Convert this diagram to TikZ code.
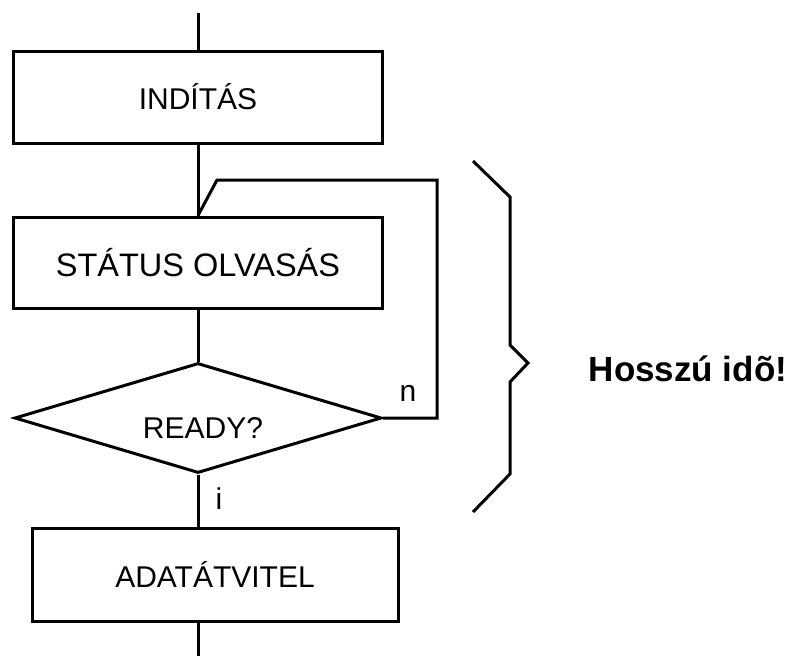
\documentclass[tikz,border=0pt]{standalone}
\usepackage{fontspec}
\setmainfont{Liberation Sans}
\usetikzlibrary{shapes.geometric}
\tikzset{
  ln/.style={line width=3pt, line join=miter},
  procbox/.style={draw, line width=3pt, rectangle, inner sep=0pt, font=\fontsize{30}{36}\selectfont},
  decbox/.style={draw, line width=3pt, diamond, inner sep=0pt, minimum width=367pt, minimum height=110pt},
  lbl/.style={inner sep=0pt, font=\fontsize{30}{36}\selectfont},
  big/.style={inner sep=0pt, font=\fontsize{35}{42}\selectfont\bfseries}
}
\begin{document}
\begin{tikzpicture}[x=1pt, y=-1pt]
\useasboundingbox (0,0) rectangle (793,656);
% nodes
\node[procbox, minimum width=369pt, minimum height=92pt] (indit) at (198,97) {INDÍTÁS};
\node[procbox, minimum width=369pt, minimum height=91pt, font=\fontsize{32.5}{38}\selectfont] (stat) at (198,262.5) {STÁTUS OLVASÁS};
\node[decbox] (dia) at (198,418) {};
\node[lbl] (ready) at (203,428) {READY?};
\node[procbox, minimum width=366pt, minimum height=93pt] (adat) at (215,574.5) {ADATÁTVITEL};
\node[lbl] (n) at (408,393) {n};
\node[lbl] (i) at (219,499) {i};
\node[big] (hossz) at (688,369) {Hosszú idõ!};
% free ends
\coordinate (top) at (198,13);
\coordinate (bot) at (198,656);
\coordinate (l1) at (217,180);
\coordinate (l2) at (437,180);
\coordinate (l3) at (437,418);
% connectors
\draw[ln] (top) -- (indit.north);
\draw[ln] (indit.south) -- (stat.north);
\draw[ln] (stat.south) -- (dia.north);
\draw[ln] (dia.south) -- (dia.south |- adat.north);
\draw[ln] (top |- adat.south) -- (bot);
\draw[ln] (stat.north) -- (l1) -- (l2) -- (l3) -- (dia.east);
% brace
\coordinate (b1) at (473,161);
\coordinate (b2) at (510,197);
\coordinate (b3) at (510,345);
\coordinate (b4) at (528,363);
\coordinate (b5) at (510,382);
\coordinate (b6) at (510,474);
\coordinate (b7) at (473,512);
\draw[ln] (b1) -- (b2) -- (b3) -- (b4) -- (b5) -- (b6) -- (b7);
\end{tikzpicture}
\end{document}
